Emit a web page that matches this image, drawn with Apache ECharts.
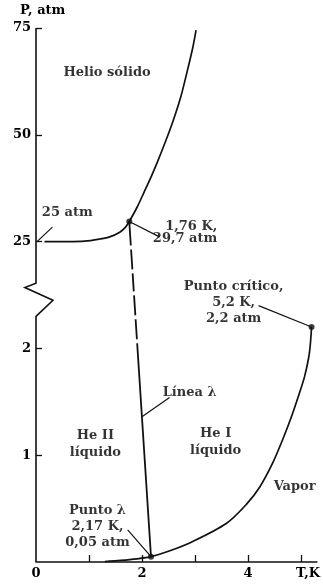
<!DOCTYPE html>
<html>
<head>
<meta charset="utf-8">
<script src="https://cdn.jsdelivr.net/npm/echarts@6/dist/echarts.min.js"></script>
<style>
  html, body { margin: 0; padding: 0; background: #ffffff; }
  #chart { width: 323px; height: 585px; }
</style>
</head>
<body>
<div id="chart"></div>
<script>
// Phase diagram of helium-4 (temperature in K, pressure in atm).

// Melting curve (solid / liquid boundary)
const meltT = [0.16, 0.58, 0.92, 1.20, 1.39, 1.58, 1.69, 1.76, 1.91, 2.04, 2.17, 2.29, 2.44, 2.58, 2.73, 2.85, 2.96, 3.02];
const meltP = [25.0, 25.0, 25.1, 25.6, 26.1, 27.2, 28.4, 29.7, 33.1, 36.6, 40.1, 43.6, 48.3, 53.0, 58.8, 64.7, 70.5, 74.5];

// Vapour pressure curve, up to the critical point
const vapT = [1.30, 1.60, 1.90, 2.17, 2.50, 2.95, 3.59, 3.97, 4.22, 4.46, 4.65, 4.82, 4.97, 5.07, 5.16, 5.20];
const vapP = [0.004, 0.015, 0.03, 0.05, 0.10, 0.19, 0.36, 0.54, 0.70, 0.92, 1.14, 1.36, 1.58, 1.74, 1.96, 2.20];

// Lambda line between the upper and lower lambda points
const lambdaT = [1.76, 2.17];
const lambdaP = [29.7, 0.05];

// Marked points: upper lambda point, critical point, lambda point
const pointT = [1.76, 5.20, 2.17];
const pointP = [29.7, 2.20, 0.05];

// Tick values
const xTickValues = [1, 2, 3, 4, 5];
const xLabelValues = [0, 2, 4, 5];
const pTickValues = [1, 2, 25, 50, 75];

// Broken pressure axis: 0..2.3 atm drawn linearly, then 25 atm per unit above the break
const toAxis = p => (p < 10 ? p : 3 + (p - 25) / 25);
const fromAxis = u => (u < 2.5 ? u : 25 + (u - 3) * 25);

// Axis spine with the zigzag break mark (axis units)
const spine = [[0, 0], [0, 2.3], [0.32, 2.45], [-0.21, 2.57], [0, 2.61], [0, 5]];

// Region names and annotations: [T, p, text, align, lineHeight]
const notes = [
  [1.34, 64.5, 'Helio sólido', 'center', 16],
  [0.59, 31.7, '25 atm', 'center', 16],
  [3.42, 27.0, '1,76 K,\n29,7 atm', 'right', 12],
  [3.73, 2.43, 'Punto crítico,\n5,2 K,\n2,2 atm', 'center', 16],
  [2.39, 1.59, 'Línea λ', 'left', 16],
  [1.12, 1.10, 'He II\nlíquido', 'center', 17],
  [3.39, 1.12, 'He I\nlíquido', 'center', 17],
  [4.88, 0.71, 'Vapor', 'center', 16],
  [1.16, 0.33, 'Punto λ\n2,17 K,\n0,05 atm', 'center', 16]
];

// Leader lines from annotations to the marks: [[T, p], [T, p]]
const leaders = [
  [[0.02, 25.0], [0.31, 28.4]],
  [[1.76, 29.7], [2.33, 26.1]],
  [[5.20, 2.20], [4.20, 2.40]],
  [[2.52, 1.54], [2.00, 1.36]],
  [[1.73, 0.30], [2.17, 0.05]]
];

const INK = '#111111';
const FONT = 'DejaVu Serif';
const TEXT = { color: '#000000', fontFamily: FONT, fontSize: 13, fontWeight: 'bold' };

const pairs = (ts, ps) => ts.map((t, i) => [t, toAxis(ps[i])]);

const series = [
  {
    name: 'melting',
    type: 'line',
    data: pairs(meltT, meltP),
    smooth: 0.3,
    symbol: 'none',
    lineStyle: { color: INK, width: 1.7 },
    silent: true
  },
  {
    name: 'vapour',
    type: 'line',
    data: pairs(vapT, vapP),
    smooth: 0.3,
    symbol: 'none',
    lineStyle: { color: INK, width: 1.7 },
    silent: true
  },
  {
    name: 'lambda',
    type: 'line',
    data: pairs(lambdaT, lambdaP),
    symbol: 'none',
    lineStyle: { color: INK, width: 1.8, type: [24, 4, 20, 4, 18, 4, 20, 4, 20, 4, 400, 0] },
    silent: true
  },
  {
    name: 'points',
    type: 'scatter',
    data: pairs(pointT, pointP),
    symbolSize: 6,
    itemStyle: { color: INK },
    silent: true,
    z: 6
  },
  {
    name: 'notes',
    type: 'scatter',
    symbolSize: 0,
    silent: true,
    itemStyle: { color: 'transparent' },
    data: notes.map(n => ({
      value: [n[0], toAxis(n[1])],
      label: Object.assign({
        show: true,
        position: [0, 0],
        formatter: n[2],
        align: n[3],
        verticalAlign: 'middle',
        lineHeight: n[4],
        textBorderWidth: 0
      }, TEXT)
    }))
  }
];

leaders.forEach((seg, i) => {
  series.push({
    name: 'leader' + i,
    type: 'line',
    data: seg.map(pt => [pt[0], toAxis(pt[1])]),
    clip: false,
    symbol: 'none',
    lineStyle: { color: INK, width: 1.2 },
    silent: true
  });
});

const chart = echarts.init(document.getElementById('chart'), null, { renderer: 'canvas' });
chart.setOption({
  animation: false,
  backgroundColor: '#ffffff',
  grid: { left: 36, right: 6, top: 28, bottom: 23 },
  xAxis: {
    type: 'value',
    min: 0,
    max: 5.3,
    splitLine: { show: false },
    axisLine: { show: true, lineStyle: { color: INK, width: 1.6 } },
    axisTick: {
      show: true, inside: true, length: 7,
      customValues: xTickValues,
      lineStyle: { color: INK, width: 1.3 }
    },
    axisLabel: Object.assign({
      customValues: xLabelValues,
      margin: 5,
      formatter: v => (v === 5 ? '{tk|T,K}' : String(v)),
      rich: { tk: Object.assign({ padding: [0, 0, 0, 14] }, TEXT) }
    }, TEXT)
  },
  yAxis: {
    type: 'value',
    min: 0,
    max: 5,
    name: 'P, atm',
    nameLocation: 'end',
    nameGap: 11,
    nameTextStyle: Object.assign({ align: 'left', padding: [0, 0, 0, -16] }, TEXT),
    splitLine: { show: false },
    axisLine: { show: false },
    axisTick: {
      show: true, inside: true, length: 6,
      customValues: pTickValues.map(toAxis),
      lineStyle: { color: INK, width: 1.3 }
    },
    axisLabel: Object.assign({
      customValues: pTickValues.map(toAxis),
      margin: 5,
      formatter: u => String(Math.round(fromAxis(u)))
    }, TEXT)
  },
  series: series
});

// Pressure axis spine with its break mark, placed through the axis scales
chart.setOption({
  graphic: [{
    type: 'polyline',
    silent: true,
    z: 5,
    shape: { points: spine.map(pt => chart.convertToPixel({ xAxisIndex: 0, yAxisIndex: 0 }, pt)) },
    style: { stroke: INK, lineWidth: 1.6, fill: null }
  }]
});
</script>
</body>
</html>
